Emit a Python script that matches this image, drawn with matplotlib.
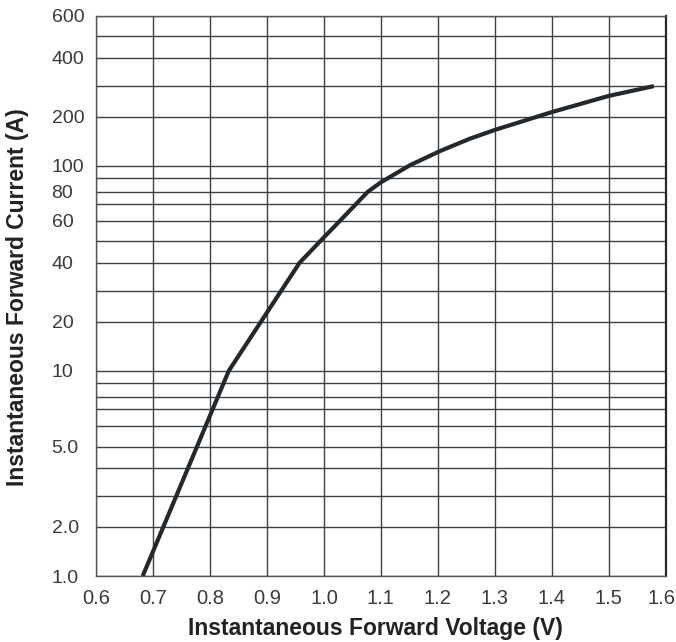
"""
Forward voltage vs forward current curve on the datasheet's log paper.
"""

import numpy as np
import matplotlib

matplotlib.use("Agg")
import matplotlib.pyplot as plt
from matplotlib.transforms import ScaledTranslation


voltage = [0.682, 0.833, 0.957, 1.0, 1.028, 1.077, 1.1, 1.151, 1.204,
           1.256, 1.3, 1.4, 1.5, 1.579]
current = [1.0, 10, 40, 52, 60, 80, 87, 101, 130,
           155, 173, 215, 268, 300]

x_ticks = [0.6, 0.7, 0.8, 0.9, 1.0, 1.1, 1.2, 1.3, 1.4, 1.5, 1.6]
x_tick_labels = ["0.6", "0.7", "0.8", "0.9", "1.0", "1.1",
                 "1.2", "1.3", "1.4", "1.5", "1.6"]
y_ticks = [1, 2, 5, 10, 20, 40, 60, 80, 100, 200, 400, 600]
y_tick_labels = ["1.0", "2.0", "5.0", "10", "20", "40", "60", "80",
                 "100", "200", "400", "600"]
y_grid = [1, 2, 3, 4, 5, 6, 7, 8, 9,
          10, 20, 30, 40, 50, 60, 70, 80, 90,
          100, 200, 300, 400, 500, 600]

# the printed paper is not a true log scale, spacing inside each decade
# was measured off the scan
MANTISSA = np.arange(1, 11, dtype=float)
DECADE_FRAC = np.array([0, .239, .388, .526, .631, .731, .812, .873, .939, 1.0])


def paper_forward(y):
    y = np.clip(np.asarray(y, dtype=float), 1e-3, None)
    dec = np.floor(np.log10(y) + 1e-9)
    m = y / 10.0 ** dec
    return dec + np.interp(m, MANTISSA, DECADE_FRAC)


def paper_inverse(t):
    t = np.asarray(t, dtype=float)
    dec = np.floor(t + 1e-9)
    m = np.interp(t - dec, DECADE_FRAC, MANTISSA)
    return m * 10.0 ** dec


tick_font = ["Liberation Sans", "DejaVu Sans"]
label_font = ["Liberation Sans", "DejaVu Sans"]

fig = plt.figure(figsize=(6.76, 6.42), dpi=100)
ax = fig.add_axes([0.142, 0.1028, 0.843, 0.8727])

ax.set_yscale("function", functions=(paper_forward, paper_inverse))
ax.set_xlim(0.6, 1.6)
ax.set_ylim(1, 600)

ax.plot(voltage, current, color="#23282d", linewidth=3,
        solid_capstyle="butt", zorder=3)

ax.set_xticks(x_ticks)
ax.set_xticklabels(x_tick_labels)
ax.set_yticks(y_grid, minor=True)
ax.set_yticks(y_ticks)
ax.set_yticklabels(y_tick_labels)

ax.grid(which="both", axis="both", color="#3c4146", linewidth=1.0)
ax.tick_params(which="both", length=0)
ax.tick_params(axis="x", pad=9.7, labelsize=14.5, labelcolor="#3a3a3a")
ax.tick_params(axis="y", pad=32, labelsize=14, labelcolor="#3a3a3a")
for lab in ax.get_yticklabels():
    lab.set_horizontalalignment("left")
    lab.set_family(tick_font)
for lab in ax.get_xticklabels():
    lab.set_family(tick_font)

# last voltage label sits a bit left in the original so it stays on the page
last = ax.get_xticklabels()[-1]
last.set_transform(last.get_transform()
                   + ScaledTranslation(-4 / 100, 0, fig.dpi_scale_trans))

for side in ["left", "bottom", "top"]:
    ax.spines[side].set_color("#555555")
    ax.spines[side].set_linewidth(1.0)
ax.spines["right"].set_color("#23282d")
ax.spines["right"].set_linewidth(1.6)

ax.set_xlabel("Instantaneous Forward Voltage (V)", fontsize=16.5,
              fontweight="bold", color="#222222", family=label_font)
ax.set_ylabel("Instantaneous Forward Current (A)", fontsize=16.5,
              fontweight="bold", color="#222222", family=label_font)
ax.xaxis.set_label_coords(0.491, -0.093)
ax.xaxis.label.set_va("center")
ax.yaxis.set_label_coords(-0.137, 0.497)
ax.yaxis.label.set_va("center")

fig.savefig("out.png", dpi=100)
